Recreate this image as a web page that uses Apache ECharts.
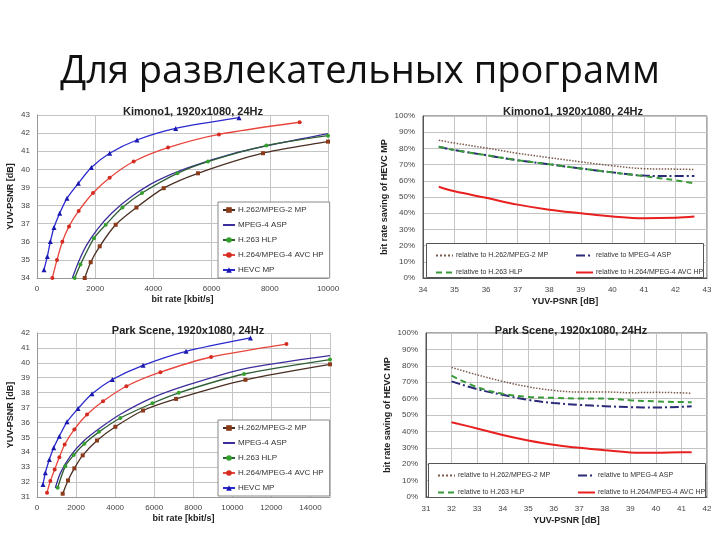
<!DOCTYPE html>
<html>
<head>
<meta charset="utf-8">
<script src="https://cdn.jsdelivr.net/npm/echarts@6/dist/echarts.min.js"></script>
<style>
  html, body { margin: 0; padding: 0; background: #fff; }
  #chart { width: 720px; height: 540px; }
</style>
</head>
<body>
<div id="chart"></div>
<script>
// Kimono1 rate-distortion curves (bit rate kbit/s, YUV-PSNR dB)
const kimonoRate_h262 = [1640, 1845, 2155, 2704, 3416, 4354, 5533, 7766, 10000];
const kimonoPsnr_h262 = [34.0, 34.87, 35.75, 36.94, 37.89, 38.96, 39.78, 40.89, 41.53];
const kimonoRate_mp4 = [1216, 1430, 1700, 2080, 2580, 3250, 4100, 5200, 6800, 8500, 10000];
const kimonoPsnr_mp4 = [34.0, 34.9, 35.8, 36.7, 37.6, 38.5, 39.35, 40.1, 40.9, 41.5, 41.97];
const kimonoRate_h263 = [1296, 1491, 1959, 2361, 2935, 3608, 4823, 5876, 7881, 10000];
const kimonoPsnr_h263 = [34.0, 34.74, 36.2, 36.94, 37.89, 38.69, 39.78, 40.43, 41.31, 41.86];
const kimonoRate_h264 = [527, 687, 871, 1100, 1432, 1924, 2497, 3322, 4502, 6254, 9026];
const kimonoPsnr_h264 = [34.0, 35.0, 36.0, 36.85, 37.7, 38.69, 39.54, 40.43, 41.2, 41.93, 42.6];
const kimonoRate_hevc = [240, 355, 458, 584, 779, 1031, 1420, 1867, 2497, 3436, 4765, 6942];
const kimonoPsnr_hevc = [34.45, 35.19, 36.01, 36.79, 37.58, 38.40, 39.23, 40.10, 40.89, 41.62, 42.26, 42.85];

// Park Scene rate-distortion curves
const parkRate_h262 = [1315, 1588, 1912, 2339, 3073, 4012, 5429, 7120, 10671, 15000];
const parkPsnr_h262 = [31.22, 32.11, 32.92, 33.79, 34.79, 35.71, 36.80, 37.58, 38.86, 39.9];
const parkRate_mp4 = [939, 1195, 1707, 2390, 3244, 4268, 5805, 7683, 10600, 15000];
const parkPsnr_mp4 = [31.6, 32.6, 33.74, 34.75, 35.64, 36.55, 37.6, 38.5, 39.6, 40.48];
const parkRate_h263 = [1059, 1451, 1878, 2424, 3176, 4268, 5907, 7254, 10600, 15000];
const parkPsnr_h263 = [31.62, 33.07, 33.81, 34.57, 35.37, 36.3, 37.29, 37.99, 39.25, 40.22];
const parkRate_h264 = [512, 683, 905, 1144, 1417, 1912, 2561, 3380, 4576, 6317, 8912, 12771];
const parkPsnr_h264 = [31.29, 32.07, 32.85, 33.67, 34.52, 35.53, 36.53, 37.42, 38.43, 39.37, 40.39, 41.26];
const parkRate_hevc = [307, 427, 632, 854, 1144, 1537, 2100, 2817, 3859, 5430, 7632, 10927];
const parkPsnr_hevc = [31.84, 32.62, 33.51, 34.30, 35.08, 36.04, 36.93, 37.92, 38.88, 39.83, 40.77, 41.67];

// bit rate saving of HEVC MP (%), against YUV-PSNR (dB)
const kimonoSavePsnr = [34.5, 35, 36, 37, 38, 39, 40, 41, 42, 42.6];
const kimonoSave_h262 = [85, 83.3, 80.2, 77, 74.3, 71.7, 69.3, 67.5, 67.2, 67];
const kimonoSave_mp4 = [81, 79, 75.8, 72.7, 70.2, 67.6, 65.2, 63.2, 62.9, 62.9];
const kimonoSave_h263 = [81, 79, 75.8, 72.7, 70.2, 67.6, 65.2, 62.8, 60.3, 58.4];
const kimonoSave_h264 = [56.3, 53.5, 49.5, 45.3, 42.2, 40.0, 38.0, 36.9, 37.2, 37.9];

const parkSavePsnr = [32, 33, 34, 35, 36, 37, 38, 39, 40, 41, 41.4];
const parkSave_h262 = [79, 74.5, 70.5, 67.2, 65, 64, 64, 63.6, 63.8, 63.5, 63.2];
const parkSave_h263 = [74, 67, 63, 61, 60.5, 60, 60, 59, 58.3, 57.9, 57.8];
const parkSave_mp4 = [70.5, 65.8, 62.3, 59.2, 57.3, 56.2, 55.4, 54.8, 54.6, 55, 55.4];
const parkSave_h264 = [45.6, 41.8, 37.8, 34.5, 31.8, 30, 28.5, 27.2, 27, 27.3, 27.3];

const rdNames = ['H.262/MPEG-2 MP', 'MPEG-4 ASP', 'H.263 HLP', 'H.264/MPEG-4 AVC HP', 'HEVC MP'];
const saveNames = ['relative to H.262/MPEG-2 MP', 'relative to MPEG-4 ASP', 'relative to H.263 HLP', 'relative to H.264/MPEG-4 AVC HP'];

const FONT = 'Liberation Sans';
const zip = (xs, ys) => xs.map((x, i) => [x, ys[i]]);

// styles for the RD curves
const rdStyle = [
    {line: '#4a2e22', sym: 'rect', symColor: '#8b3a1a', size: 4},
    {line: '#3c2f9a', sym: 'none', symColor: '#3c2f9a', size: 0},
    {line: '#2e5e34', sym: 'circle', symColor: '#33a02c', size: 4},
    {line: '#e8453c', sym: 'circle', symColor: '#d42a20', size: 4},
    {line: '#2a2acf', sym: 'triangle', symColor: '#1a1ab0', size: 5}
];
const saveStyle = [
    {color: '#7a5a4a', type: 'dotted', width: 1.5},
    {color: '#2a2a78', type: [9, 3, 2, 3], width: 2},
    {color: '#3a9a3a', type: [6, 4], width: 2},
    {color: '#e82020', type: 'solid', width: 2}
];

function rdSeries(idx, rates, psnrs) {
    return rates.map((r, i) => ({
        name: rdNames[i],
        type: 'line',
        xAxisIndex: idx, yAxisIndex: idx,
        data: zip(r, psnrs[i]),
        smooth: 0.25,
        symbol: rdStyle[i].sym,
        symbolSize: rdStyle[i].size,
        showSymbol: true,
        lineStyle: {color: rdStyle[i].line, width: 1.3},
        itemStyle: {color: rdStyle[i].symColor},
        animation: false
    }));
}

function saveSeries(idx, psnr, saves) {
    return saves.map((s, i) => ({
        name: saveNames[i],
        type: 'line',
        xAxisIndex: idx, yAxisIndex: idx,
        data: zip(psnr, s),
        smooth: 0.4,
        symbol: 'none',
        lineStyle: {color: saveStyle[i].color, type: saveStyle[i].type, width: saveStyle[i].width},
        itemStyle: {color: saveStyle[i].color},
        animation: false
    }));
}

const tick = {fontFamily: FONT, fontSize: 8, color: '#444'};
const axisName = {fontFamily: FONT, fontSize: 9, fontWeight: 'bold', color: '#222'};
const gridLine = {show: true, lineStyle: {color: '#c4c4c4', width: 1}};
const plain = v => String(v);

function rdX(idx, max) {
    return {
        gridIndex: idx, type: 'value', min: 0, max: max, interval: 2000,
        name: 'bit rate [kbit/s]', nameLocation: 'middle', nameGap: 17, nameTextStyle: axisName,
        axisLine: {lineStyle: {color: '#999'}}, axisTick: {show: false},
        axisLabel: Object.assign({margin: 7, formatter: plain, showMaxLabel: max % 2000 === 0}, tick),
        splitLine: gridLine
    };
}
function rdY(idx, min, max) {
    return {
        gridIndex: idx, type: 'value', min: min, max: max, interval: 1,
        name: 'YUV-PSNR [dB]', nameLocation: 'middle', nameGap: 22, nameTextStyle: axisName,
        axisLine: {show: true, lineStyle: {color: '#999'}}, axisTick: {show: false},
        axisLabel: Object.assign({margin: 7}, tick),
        splitLine: gridLine
    };
}
function saveX(idx, min, max) {
    return {
        gridIndex: idx, type: 'value', min: min, max: max, interval: 1,
        name: 'YUV-PSNR [dB]', nameLocation: 'middle', nameGap: 19, nameTextStyle: axisName,
        axisLine: {lineStyle: {color: '#555'}}, axisTick: {show: false},
        axisLabel: Object.assign({margin: 8}, tick),
        splitLine: gridLine
    };
}
function saveY(idx) {
    return {
        gridIndex: idx, type: 'value', min: 0, max: 100, interval: 10,
        name: 'bit rate saving of HEVC MP', nameLocation: 'middle', nameGap: 34, nameTextStyle: axisName,
        axisLine: {show: true, lineStyle: {color: '#555'}}, axisTick: {show: false},
        axisLabel: Object.assign({margin: 8, formatter: '{value}%'}, tick),
        splitLine: gridLine
    };
}

function subTitle(text, x, y) {
    return {
        text: text, left: x, top: y, textAlign: 'center',
        textStyle: {fontFamily: FONT, fontSize: 11, fontWeight: 'bold', color: '#222'}
    };
}

// MPEG-4 ASP has no point markers, so its legend icon shows the line only
const noMarker = {opacity: 0};

function rdLegend(x, y) {
    return {
        data: rdNames.map(n => n === 'MPEG-4 ASP' ? {name: n, itemStyle: noMarker} : n),
        orient: 'vertical', left: x, top: y,
        itemWidth: 12, itemHeight: 7, itemGap: 7,
        padding: [4, 6, 4, 4],
        backgroundColor: '#fff', borderColor: '#888', borderWidth: 1,
        textStyle: {fontFamily: FONT, fontSize: 8, color: '#333', padding: [0, 0, 0, -2]},
        selectedMode: false
    };
}
function saveLegend(names, x, y) {
    return {
        data: names.map(n => ({name: n, itemStyle: noMarker})),
        orient: 'vertical', left: x, top: y,
        itemWidth: 17, itemHeight: 6, itemGap: 10, z: 10,
        textStyle: {fontFamily: FONT, fontSize: 7, color: '#333', padding: [0, 0, 0, -2]},
        selectedMode: false
    };
}

const chart = echarts.init(document.getElementById('chart'), null, {renderer: 'canvas'});

const option = {
    backgroundColor: '#fff',
    animation: false,
    title: [
        {
            text: 'Для развлекательных программ', left: 'center', top: 48,
            textStyle: {fontFamily: 'Open Sans', fontSize: 38, fontWeight: 'normal', color: '#111'}
        },
        subTitle('Kimono1, 1920x1080, 24Hz', 188, 101),
        subTitle('Kimono1, 1920x1080, 24Hz', 568, 101),
        subTitle('Park Scene, 1920x1080, 24Hz', 183, 320),
        subTitle('Park Scene, 1920x1080, 24Hz', 566, 320)
    ],
    grid: [
        {left: 37, top: 115, width: 291, height: 163, show: false},
        {left: 423, top: 116, width: 284, height: 162, show: true, borderColor: '#555', borderWidth: 1, backgroundColor: 'transparent'},
        {left: 37, top: 333, width: 293, height: 164, show: false},
        {left: 426, top: 333, width: 281, height: 164, show: true, borderColor: '#555', borderWidth: 1, backgroundColor: 'transparent'}
    ],
    xAxis: [rdX(0, 10000), saveX(1, 34, 43), rdX(2, 15000), saveX(3, 31, 42)],
    yAxis: [rdY(0, 34, 43), saveY(1), rdY(2, 31, 42), saveY(3)],
    legend: [
        rdLegend(218, 202),
        rdLegend(218, 420),
        saveLegend([saveNames[0], saveNames[2]], 430, 247),
        saveLegend([saveNames[1], saveNames[3]], 570, 247),
        saveLegend([saveNames[0], saveNames[2]], 432, 467),
        saveLegend([saveNames[1], saveNames[3]], 572, 467)
    ],
    graphic: [
        {type: 'rect', left: 426, top: 243, shape: {width: 277, height: 34}, style: {fill: '#fff', stroke: '#555', lineWidth: 1}, z: 5},
        {type: 'rect', left: 428, top: 463, shape: {width: 277, height: 34}, style: {fill: '#fff', stroke: '#555', lineWidth: 1}, z: 5}
    ],
    series: [].concat(
        rdSeries(0,
            [kimonoRate_h262, kimonoRate_mp4, kimonoRate_h263, kimonoRate_h264, kimonoRate_hevc],
            [kimonoPsnr_h262, kimonoPsnr_mp4, kimonoPsnr_h263, kimonoPsnr_h264, kimonoPsnr_hevc]),
        saveSeries(1, kimonoSavePsnr, [kimonoSave_h262, kimonoSave_mp4, kimonoSave_h263, kimonoSave_h264]),
        rdSeries(2,
            [parkRate_h262, parkRate_mp4, parkRate_h263, parkRate_h264, parkRate_hevc],
            [parkPsnr_h262, parkPsnr_mp4, parkPsnr_h263, parkPsnr_h264, parkPsnr_hevc]),
        saveSeries(3, parkSavePsnr, [parkSave_h262, parkSave_mp4, parkSave_h263, parkSave_h264])
    )
};

chart.setOption(option);
</script>
</body>
</html>
